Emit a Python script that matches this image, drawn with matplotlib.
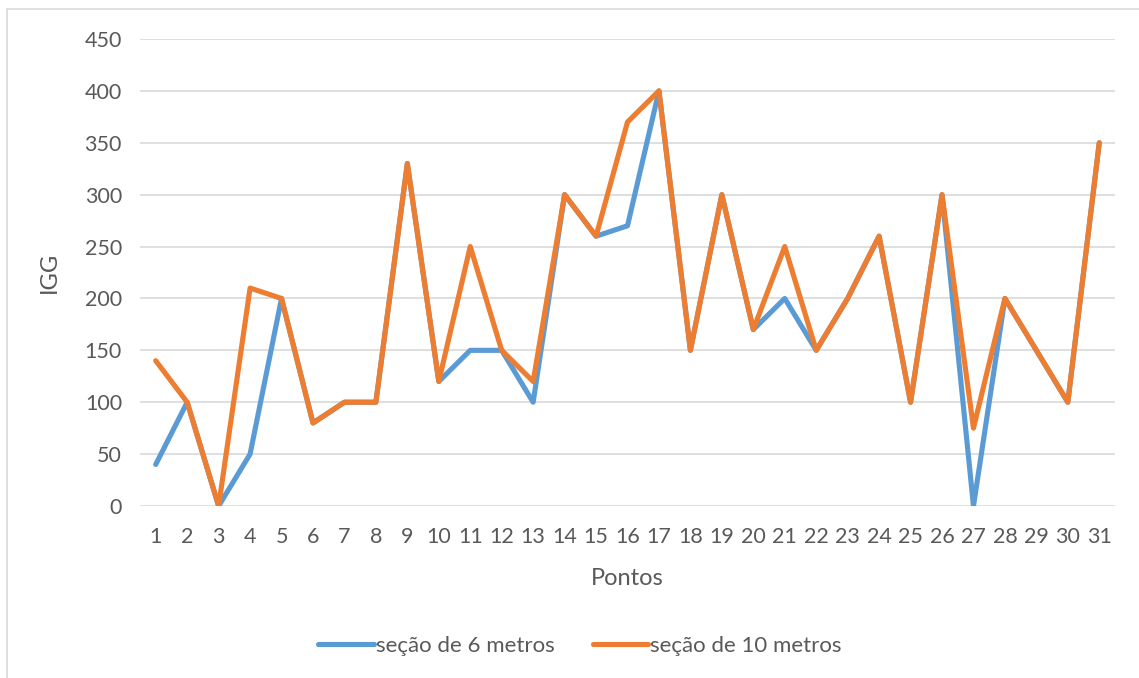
import matplotlib
matplotlib.use("Agg")
import matplotlib.pyplot as plt
from matplotlib.patches import Rectangle

plt.rcParams['font.family'] = ['Lato', 'DejaVu Sans']

pontos = list(range(1, 32))
secao_6m = [40, 100, 0, 50, 200, 80, 100, 100, 330, 120, 150, 150, 100, 300, 260,
            270, 400, 150, 300, 170, 200, 150, 200, 260, 100, 300, 0, 200, 150, 100, 350]
secao_10m = [140, 100, 0, 210, 200, 80, 100, 100, 330, 120, 250, 150, 120, 300, 260,
             370, 400, 150, 300, 170, 250, 150, 200, 260, 100, 300, 75, 200, 150, 100, 350]
y_ticks = [0, 50, 100, 150, 200, 250, 300, 350, 400, 450]

W, H = 1139, 678
fig = plt.figure(figsize=(W / 100, H / 100), dpi=100)

# chart frame (only its top and left edges fall inside the image)
fig.patches.append(Rectangle((7 / W, -0.1), 1.2, 1.1 - 9 / H, transform=fig.transFigure,
                             fill=False, edgecolor='#d9d9d9', linewidth=1.2))

ax = fig.add_axes([140 / W, 1 - 506 / H, (1115 - 140) / W, (506 - 39) / H])

blue = '#5B9BD5'
orange = '#ED7D31'
ax.plot(pontos, secao_6m, color=blue, linewidth=3.7, solid_joinstyle='round',
        solid_capstyle='round', label='seção de 6 metros', zorder=3)
ax.plot(pontos, secao_10m, color=orange, linewidth=3.7, solid_joinstyle='round',
        solid_capstyle='round', label='seção de 10 metros', zorder=4)

ax.set_xlim(0.5, 31.5)
ax.set_ylim(0, 450)
ax.set_yticks(y_ticks)
ax.set_xticks(pontos)
ax.set_xticklabels([str(p) for p in pontos])
ax.yaxis.grid(True, color='#d9d9d9', linewidth=1.2)
ax.set_axisbelow(True)
for s in ax.spines.values():
    s.set_visible(False)
ax.tick_params(axis='both', length=0, labelsize=15.5, labelcolor='#595959')
ax.tick_params(axis='y', pad=13)
ax.tick_params(axis='x', pad=15)

ax.set_xlabel('Pontos', fontsize=17, color='#595959', labelpad=15)
ax.set_ylabel('IGG', fontsize=17, color='#595959', labelpad=18)

leg = fig.legend(loc='center', bbox_to_anchor=(580 / W, 1 - 646 / H), ncol=2,
                 frameon=False, fontsize=16, handlelength=2.5, handletextpad=0.1,
                 columnspacing=1.7)
for t in leg.get_texts():
    t.set_color('#595959')
for l in leg.get_lines():
    l.set_linewidth(3.7)

fig.savefig('out.png', dpi=100)
